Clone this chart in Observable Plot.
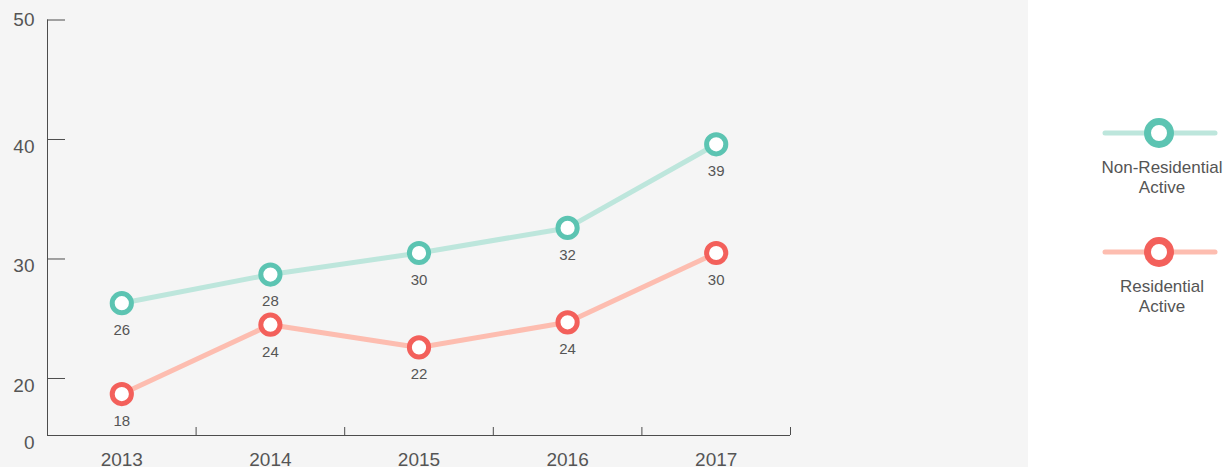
<!DOCTYPE html>
<html>
<head>
<meta charset="utf-8">
<script src="https://cdn.jsdelivr.net/npm/d3@7"></script>
<script src="https://cdn.jsdelivr.net/npm/@observablehq/plot@0.6"></script>
<style>
  html, body { margin: 0; padding: 0; background: #ffffff; }
  #wrap { position: relative; width: 1231px; height: 467px; overflow: hidden; font-family: "Liberation Sans", Arial, sans-serif; }
  #bg { position: absolute; left: 0; top: 0; width: 1028px; height: 467px; background: #f5f5f5; }
  #chart { position: absolute; left: 0; top: 0; }
  #legend { position: absolute; left: 0; top: 0; }
</style>
</head>
<body>
<div id="wrap"><div id="bg"></div><div id="chart"></div><div id="legend"></div></div>
<script>
const years = [2013, 2014, 2015, 2016, 2017];
const nonResidential = [26.3, 28.7, 30.5, 32.6, 39.6];
const residential = [18.7, 24.5, 22.6, 24.7, 30.5];
const nonResidentialLabels = ["26", "28", "30", "32", "39"];
const residentialLabels = ["18", "24", "22", "24", "30"];
const yTickLabels = ["0", "20", "30", "40", "50"];
const yFloor = 15.23; // axis floor, labelled "0" in the original
const yTicks = [yFloor, 20, 30, 40, 50];
const seriesNames = ["Non-Residential Active", "Residential Active"];
const lineColors = ["#bde6dc", "#fdbdb0"];
const dotColors = ["#5cc4b2", "#f3605b"];

const data = [];
years.forEach((yr, i) => {
  data.push({year: yr, value: nonResidential[i], label: nonResidentialLabels[i], series: seriesNames[0]});
  data.push({year: yr, value: residential[i], label: residentialLabels[i], series: seriesNames[1]});
});
const bounds = years.map(y => y + 0.5);
const axisColor = "#4d4d4d";
const textColor = "#555555";
const yFmt = d => yTickLabels[yTicks.indexOf(d)];

const chart = Plot.plot({
  width: 1231,
  height: 467,
  marginLeft: 47,
  marginRight: 441,
  marginTop: 19.5,
  marginBottom: 32,
  style: {background: "transparent", fontFamily: "Liberation Sans, Arial, sans-serif", color: axisColor},
  x: {type: "linear", domain: [2012.5, 2017.5], axis: null},
  y: {type: "linear", domain: [yFloor, 50], axis: null},
  marks: [
    Plot.ruleX([2012.5], {stroke: axisColor, strokeWidth: 1}),
    Plot.ruleY([yFloor], {stroke: axisColor, strokeWidth: 1}),
    Plot.axisY(yTicks, {anchor: "left", label: null, tickSize: -18, tickFormat: () => "", stroke: axisColor}),
    Plot.axisY(yTicks.filter(t => t !== 50), {anchor: "left", label: null, tickSize: 0, tickPadding: 13, dy: 7, tickFormat: yFmt, fontSize: 19, fill: textColor}),
    Plot.axisY(yTicks.filter(t => t === 50), {anchor: "left", label: null, tickSize: 0, tickPadding: 13, tickFormat: yFmt, fontSize: 19, fill: textColor}),
    Plot.axisX(bounds, {anchor: "bottom", label: null, tickSize: -8, tickFormat: () => "", stroke: axisColor}),
    Plot.axisX(years, {anchor: "bottom", label: null, tickSize: 0, tickPadding: 17, tickFormat: d => String(d), fontSize: 19, fill: textColor}),
    Plot.line(data, {x: "year", y: "value", z: "series", stroke: d => lineColors[seriesNames.indexOf(d.series)], strokeWidth: 5}),
    Plot.dot(data, {x: "year", y: "value", r: 9.6, fill: "white", stroke: d => dotColors[seriesNames.indexOf(d.series)], strokeWidth: 5}),
    Plot.text(data, {x: "year", y: "value", text: "label", dy: 27, fontSize: 15, fill: textColor})
  ]
});
document.getElementById("chart").appendChild(chart);

// Legend
const lg = d3.select("#legend").append("svg").attr("width", 1231).attr("height", 467);
const legendItems = [
  {lines: ["Non-Residential", "Active"], cy: 133},
  {lines: ["Residential", "Active"], cy: 252}
];
legendItems.forEach((item, i) => {
  const g = lg.append("g");
  g.append("line").attr("x1", 1105).attr("x2", 1215).attr("y1", item.cy).attr("y2", item.cy)
    .attr("stroke", lineColors[i]).attr("stroke-width", 5).attr("stroke-linecap", "round");
  g.append("circle").attr("cx", 1159).attr("cy", item.cy).attr("r", 11.5)
    .attr("fill", "white").attr("stroke", dotColors[i]).attr("stroke-width", 7);
  item.lines.forEach((t, j) => {
    g.append("text").attr("x", 1162).attr("y", item.cy + 34 + j * 20 + 6)
      .attr("text-anchor", "middle").attr("font-size", 17).attr("fill", textColor)
      .attr("font-family", "Liberation Sans, Arial, sans-serif").text(t);
  });
});
</script>
</body>
</html>
